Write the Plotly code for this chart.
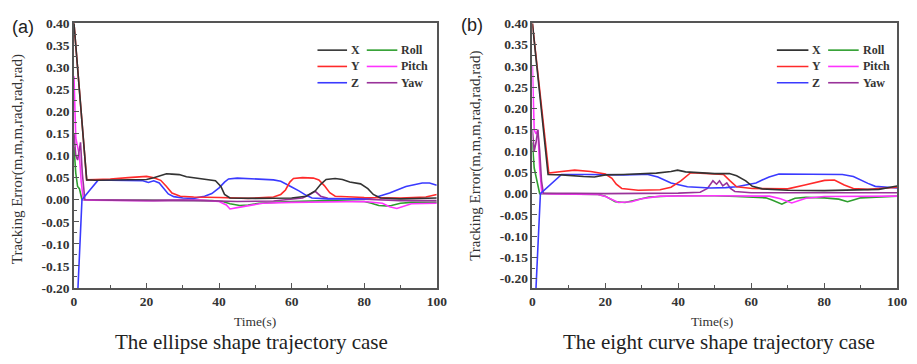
import plotly.graph_objects as go

W, H = 917, 364

# ---------------- data: (a) ellipse shape trajectory ----------------
a_t_x = [0, 3.5, 6, 10, 15, 20, 22, 24, 25.5, 27, 29, 31, 34, 37, 39, 40.5, 41.5, 43, 50, 60, 64, 66.5, 68, 69.5, 72, 74, 76, 79, 81, 82.5, 84.5, 90, 100]
a_x = [0.40, 0.045, 0.044, 0.045, 0.046, 0.046, 0.050, 0.056, 0.059, 0.058, 0.057, 0.052, 0.049, 0.046, 0.043, 0.030, 0.012, 0.004, 0.003, 0.004, 0.008, 0.020, 0.035, 0.046, 0.048, 0.046, 0.040, 0.036, 0.025, 0.012, 0.004, 0.002, 0.004]

a_t_y = [0, 3.5, 6, 10, 15, 18, 20, 22, 23.9, 25.5, 27, 29.3, 33, 40, 48, 55, 57, 58.3, 59.5, 60.5, 63, 66, 67.5, 69, 70.5, 72, 80, 90, 97, 100]
a_y = [0.40, 0.045, 0.046, 0.047, 0.050, 0.052, 0.053, 0.050, 0.044, 0.030, 0.015, 0.008, 0.006, 0.005, 0.003, 0.006, 0.012, 0.022, 0.040, 0.048, 0.050, 0.049, 0.045, 0.032, 0.016, 0.008, 0.005, 0.004, 0.006, 0.012]

a_t_z = [0, 1.1, 2.2, 4, 6.7, 10, 15, 19, 20.5, 22, 23.5, 24.8, 26, 27.5, 30, 33, 36, 38, 40, 41.5, 42.6, 45, 50, 55, 57, 58.5, 60, 62, 64, 65.6, 70, 80, 83, 87, 91.5, 96, 98, 100]
a_z = [-0.40, -0.20, 0.0, 0.018, 0.045, 0.044, 0.043, 0.043, 0.039, 0.043, 0.038, 0.025, 0.013, 0.007, 0.004, 0.003, 0.008, 0.014, 0.027, 0.040, 0.047, 0.049, 0.047, 0.045, 0.042, 0.036, 0.029, 0.020, 0.010, 0.004, 0.002, 0.002, 0.005, 0.015, 0.030, 0.038, 0.038, 0.033]

a_t_roll = [0, 0.5, 1, 1.5, 2.2, 5, 20, 38, 41, 43, 45.7, 48, 51, 55, 60, 70, 80, 82, 84, 86, 87.5, 90, 93, 100]
a_roll = [0.12, 0.06, 0.03, 0.025, 0.0, 0.0, -0.001, -0.002, -0.004, -0.009, -0.013, -0.012, -0.008, -0.006, -0.004, -0.002, -0.004, -0.008, -0.013, -0.014, -0.013, -0.008, -0.006, -0.006]

a_t_pitch = [0, 0.5, 1, 1.5, 2, 2.6, 5, 20, 35, 40, 42, 43, 45, 48, 52, 60, 70, 80, 85, 87, 89, 91, 93, 100]
a_pitch = [0.28, 0.14, 0.12, 0.10, 0.04, 0.0, -0.001, -0.002, -0.001, -0.004, -0.012, -0.021, -0.018, -0.014, -0.008, -0.006, -0.005, -0.004, -0.008, -0.016, -0.020, -0.014, -0.009, -0.008]

a_t_yaw = [0, 0.5, 1, 1.5, 1.8, 2.3, 3, 10, 20, 22, 30, 40, 45, 55, 63, 65, 66.5, 68, 70, 80, 90, 100]
a_yaw = [0.15, 0.10, 0.09, 0.12, 0.13, 0.06, 0.0, -0.001, -0.003, -0.002, -0.001, -0.002, -0.004, -0.003, 0.004, 0.012, 0.019, 0.008, 0.003, 0.001, -0.002, -0.002]

# ---------------- data: (b) eight curve shape trajectory ----------------
b_t_x = [0, 4.3, 8, 11.6, 14, 17, 20, 25, 30, 34, 38, 39.8, 42, 45, 50, 54, 56, 58.5, 60.3, 63, 70, 80, 90, 95, 100]
b_x = [0.40, 0.045, 0.044, 0.041, 0.040, 0.039, 0.044, 0.045, 0.046, 0.048, 0.052, 0.055, 0.051, 0.049, 0.047, 0.047, 0.042, 0.030, 0.017, 0.011, 0.008, 0.007, 0.008, 0.010, 0.018]

b_t_y = [0, 4.5, 8, 11.6, 16, 20, 21.8, 23, 24.5, 29, 35, 38, 40.7, 43.4, 46, 48.8, 52.4, 54.2, 56, 60.3, 70, 74.7, 78, 80.1, 82.8, 85.5, 88, 92, 100]
b_y = [0.40, 0.048, 0.052, 0.055, 0.052, 0.046, 0.036, 0.022, 0.012, 0.008, 0.009, 0.015, 0.030, 0.049, 0.048, 0.046, 0.045, 0.030, 0.016, 0.012, 0.011, 0.020, 0.026, 0.031, 0.032, 0.020, 0.012, 0.010, 0.015]

b_t_z = [0, 1.0, 2.2, 5, 8, 15, 20, 25, 30, 31.7, 34.4, 38, 42.5, 48.8, 53, 56, 58.5, 61.3, 63, 64.9, 67.6, 74, 80, 85, 88, 90.3, 92, 94, 97.6, 100]
b_z = [-0.45, -0.22, 0.0, 0.022, 0.045, 0.045, 0.044, 0.044, 0.045, 0.045, 0.039, 0.025, 0.016, 0.013, 0.014, 0.016, 0.020, 0.025, 0.032, 0.039, 0.046, 0.046, 0.045, 0.045, 0.040, 0.030, 0.024, 0.017, 0.015, 0.013]

b_t_roll = [0, 0.5, 1, 2, 3, 10, 18, 20, 22.7, 25.4, 29, 32, 40, 50, 56, 60, 64, 65.7, 68.4, 70, 72, 75, 80, 84, 86.4, 88, 90, 100]
b_roll = [0.12, 0.06, 0.04, 0.0, 0.0, -0.001, -0.002, -0.006, -0.019, -0.021, -0.014, -0.008, -0.005, -0.005, -0.007, -0.008, -0.010, -0.015, -0.025, -0.018, -0.011, -0.009, -0.010, -0.013, -0.019, -0.015, -0.010, -0.006]

b_t_pitch = [0, 0.5, 1, 1.5, 2, 2.6, 5, 18, 20, 23.6, 27.2, 30, 35, 50, 65, 68, 71.1, 73, 75, 80, 100]
b_pitch = [0.30, 0.15, 0.14, 0.15, 0.06, 0.0, -0.001, -0.002, -0.007, -0.021, -0.019, -0.012, -0.006, -0.005, -0.006, -0.012, -0.022, -0.016, -0.011, -0.007, -0.006]

b_t_yaw = [0, 0.5, 1, 1.5, 2, 2.5, 3, 20, 40, 46, 48, 49.5, 50.5, 51.3, 52.2, 53.3, 54.3, 55.5, 60, 80, 100]
b_yaw = [0.15, 0.10, 0.12, 0.15, 0.10, 0.03, 0.001, 0.0, 0.001, 0.003, 0.012, 0.030, 0.022, 0.030, 0.018, 0.025, 0.012, 0.005, 0.002, 0.002, 0.002]

series_names = ["X", "Y", "Z", "Roll", "Pitch", "Yaw"]
series_colors = ["#333333", "#ff2a2a", "#3a3aff", "#2e9e2e", "#ff33ff", "#993399"]

x_tick_vals = [0, 20, 40, 60, 80, 100]
x_tick_text = ["0", "20", "40", "60", "80", "100"]
y_tick_vals = [0.40, 0.35, 0.30, 0.25, 0.20, 0.15, 0.10, 0.05, 0.00, -0.05, -0.10, -0.15, -0.20]
y_tick_text = ["0.40", "0.35", "0.30", "0.25", "0.20", "0.15", "0.10", "0.05", "0.00", "-0.05", "-0.10", "-0.15", "-0.20"]

y_title = "Tracking Error(m,m,m,rad,rad,rad)"
x_title = "Time(s)"
captions = ["The ellipse shape trajectory case", "The eight curve shape trajectory case"]
panel_labels = ["(a)", "(b)"]

panels = [
    [(a_t_x, a_x), (a_t_y, a_y), (a_t_z, a_z), (a_t_roll, a_roll), (a_t_pitch, a_pitch), (a_t_yaw, a_yaw)],
    [(b_t_x, b_x), (b_t_y, b_y), (b_t_z, b_z), (b_t_roll, b_roll), (b_t_pitch, b_pitch), (b_t_yaw, b_yaw)],
]

# ---------------- layout geometry (pixels) ----------------
def px(x):
    return x / W

def py(y):
    return 1 - y / H

plot_left = [72, 537]
plot_right = [440, 907]
plot_top, plot_bottom = 17, 293
y_ranges = [[-0.20, 0.40], [-0.2216, 0.40]]

fig = go.Figure()
draw_order = [3, 4, 5, 2, 1, 0]
for p, data in enumerate(panels):
    xa = "x" if p == 0 else "x2"
    ya = "y" if p == 0 else "y2"
    for i in draw_order:
        t, v = data[i]
        fig.add_trace(go.Scatter(x=t, y=v, mode="lines", name=series_names[i],
                                 line=dict(color=series_colors[i], width=1.6),
                                 xaxis=xa, yaxis=ya, showlegend=False,
                                 cliponaxis=True))

tick_font = dict(family="Liberation Serif", size=13.5, color="#333333", weight="bold")
axis_common = dict(showline=True, linecolor="#555555", linewidth=1.5, mirror=True,
                   showgrid=False, zeroline=False, ticks="inside", ticklen=5,
                   tickcolor="#555555", tickwidth=1.2, tickfont=tick_font)

for p in range(2):
    sfx = "" if p == 0 else "2"
    fig.update_layout(**{
        "xaxis" + sfx: dict(axis_common, domain=[px(plot_left[p]), px(plot_right[p])],
                            range=[0, 100], tickmode="array", tickvals=x_tick_vals,
                            ticktext=x_tick_text, anchor="y" + sfx,
                            minor=dict(ticks="inside", dtick=10, ticklen=3,
                                       tickcolor="#555555", tickwidth=1.2)),
        "yaxis" + sfx: dict(axis_common, domain=[py(plot_bottom), py(plot_top)],
                            range=y_ranges[p], tickmode="array", tickvals=y_tick_vals,
                            ticktext=y_tick_text, anchor="x" + sfx,
                            minor=dict(ticks="inside", dtick=0.025, ticklen=3,
                                       tickcolor="#555555", tickwidth=1.2)),
    })

annotations = []
shapes = []
serif = "Liberation Serif"
ytitle_x = [15, 479]
ytitle_y = [159, 155]
xtitle_x = [256, 719]
caption_x = [252, 726]
label_x = [20, 476]
label_y = [21, 19]
for p in range(2):
    annotations.append(dict(text=y_title, x=px(ytitle_x[p]), y=py(ytitle_y[p]), xref="paper", yref="paper",
                            textangle=-90, showarrow=False, xanchor="center", yanchor="middle",
                            font=dict(family=serif, size=15, color="#333333")))
    annotations.append(dict(text=x_title, x=px(xtitle_x[p]), y=py(328), xref="paper", yref="paper",
                            showarrow=False, xanchor="center", yanchor="middle",
                            font=dict(family=serif, size=13.5, color="#333333")))
    annotations.append(dict(text=captions[p], x=px(caption_x[p]), y=py(349), xref="paper", yref="paper",
                            showarrow=False, xanchor="center", yanchor="middle",
                            font=dict(family=serif, size=21, color="#222222")))
    annotations.append(dict(text=panel_labels[p], x=px(label_x[p]), y=py(label_y[p]), xref="paper", yref="paper",
                            showarrow=False, xanchor="center", yanchor="middle",
                            font=dict(family="Liberation Sans", size=18, color="#222222")))

# legends (2 columns x 3 rows)
leg_col_line = [[(319, 349), (369, 400)], [(785, 817), (837, 868)]]
leg_rows = [45, 62, 79]
for p in range(2):
    for i, name in enumerate(series_names):
        col, row = divmod(i, 3)
        x0, x1 = leg_col_line[p][col]
        yy = leg_rows[row]
        shapes.append(dict(type="line", xref="paper", yref="paper", x0=px(x0), x1=px(x1),
                           y0=py(yy), y1=py(yy), line=dict(color=series_colors[i], width=1.6)))
        annotations.append(dict(text=name, x=px(x1 + 2), y=py(yy), xref="paper", yref="paper",
                                showarrow=False, xanchor="left", yanchor="middle",
                                font=dict(family=serif, size=12, color="#333333", weight="bold")))

fig.update_layout(width=W, height=H, margin=dict(l=0, r=0, t=0, b=0),
                  paper_bgcolor="white", plot_bgcolor="white",
                  annotations=annotations, shapes=shapes, showlegend=False)

fig.write_html("out.html")
